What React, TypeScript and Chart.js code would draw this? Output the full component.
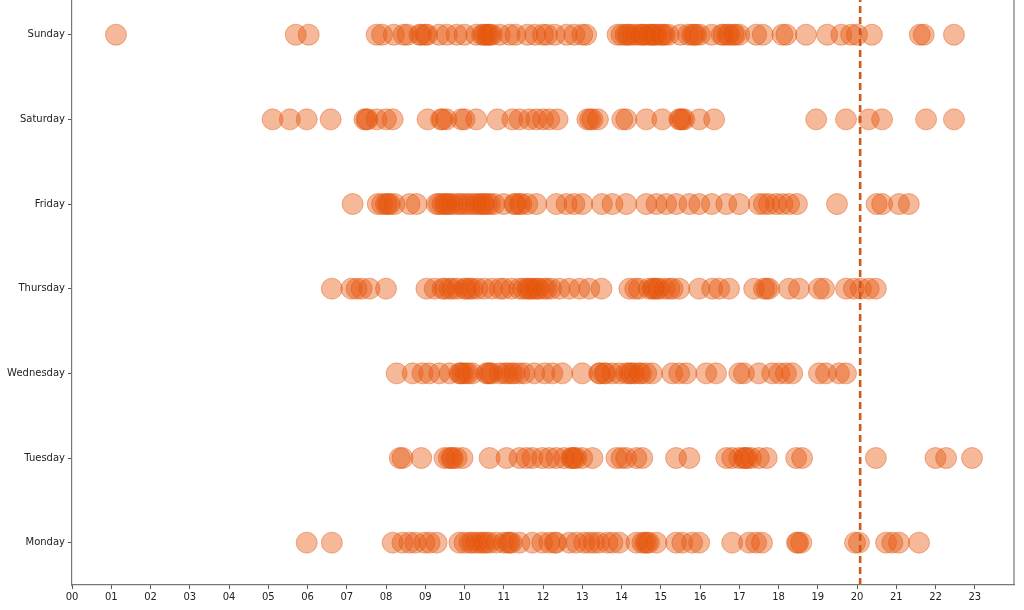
import React, { useEffect, useRef } from "react";
import { Chart, registerables } from "chart.js";

Chart.register(...registerables);

const dayLabels = ["Monday", "Tuesday", "Wednesday", "Thursday", "Friday", "Saturday", "Sunday"];
const hourTickLabels = ["00","01","02","03","04","05","06","07","08","09","10","11","12","13","14","15","16","17","18","19","20","21","22","23"];

const monday = [5.98, 6.62, 8.17, 8.42, 8.6, 8.75, 8.98, 9.11, 9.29, 9.87, 10.0, 10.13, 10.2, 10.3, 10.4, 10.48, 10.55, 10.64, 10.81, 11.0, 11.1, 11.15, 11.2, 11.4, 11.73, 11.98, 12.16, 12.3, 12.34, 12.67, 12.85, 13.05, 13.18, 13.3, 13.43, 13.64, 13.77, 13.94, 14.38, 14.53, 14.6, 14.65, 14.7, 14.89, 15.39, 15.55, 15.8, 15.98, 16.82, 17.25, 17.43, 17.58, 18.47, 18.5, 18.58, 19.95, 20.05, 20.74, 20.9, 21.07, 21.58];
const tuesday = [8.35, 8.42, 8.9, 9.49, 9.6, 9.67, 9.7, 9.8, 9.95, 10.64, 11.07, 11.4, 11.58, 11.73, 11.98, 12.16, 12.34, 12.54, 12.72, 12.75, 12.8, 12.85, 13.0, 13.26, 13.87, 14.0, 14.12, 14.38, 14.53, 15.39, 15.73, 16.67, 16.82, 17.0, 17.12, 17.15, 17.2, 17.3, 17.5, 17.7, 18.45, 18.6, 20.48, 22.0, 22.27, 22.93];
const wednesday = [8.27, 8.68, 8.93, 9.1, 9.36, 9.62, 9.87, 9.9, 9.95, 10.03, 10.1, 10.2, 10.56, 10.6, 10.65, 10.7, 10.9, 11.02, 11.1, 11.2, 11.27, 11.4, 11.53, 11.78, 12.04, 12.24, 12.49, 13.0, 13.43, 13.45, 13.56, 13.6, 13.77, 13.94, 14.12, 14.2, 14.25, 14.33, 14.45, 14.5, 14.63, 14.78, 15.29, 15.47, 15.65, 16.16, 16.41, 17.0, 17.12, 17.5, 17.84, 18.02, 18.19, 18.35, 19.03, 19.21, 19.54, 19.72];
const thursday = [6.62, 7.12, 7.25, 7.38, 7.58, 8.0, 9.03, 9.24, 9.44, 9.5, 9.62, 9.7, 9.82, 10.0, 10.05, 10.13, 10.2, 10.33, 10.5, 10.7, 10.9, 11.0, 11.2, 11.4, 11.5, 11.6, 11.65, 11.7, 11.78, 11.85, 11.9, 12.03, 12.1, 12.21, 12.42, 12.67, 12.93, 13.18, 13.49, 14.2, 14.35, 14.45, 14.7, 14.8, 14.83, 14.9, 14.96, 15.1, 15.22, 15.3, 15.47, 15.98, 16.31, 16.49, 16.74, 17.38, 17.63, 17.7, 17.76, 18.27, 18.52, 19.03, 19.16, 19.72, 19.92, 20.1, 20.3, 20.48];
const friday = [7.15, 7.79, 7.9, 8.0, 8.05, 8.1, 8.22, 8.6, 8.78, 9.29, 9.35, 9.44, 9.5, 9.55, 9.62, 9.7, 9.82, 9.9, 10.0, 10.1, 10.2, 10.3, 10.38, 10.45, 10.5, 10.58, 10.65, 10.76, 11.0, 11.27, 11.3, 11.4, 11.45, 11.6, 11.83, 12.34, 12.6, 12.8, 13.0, 13.5, 13.77, 14.12, 14.63, 14.89, 15.14, 15.4, 15.73, 15.98, 16.3, 16.67, 17.0, 17.5, 17.63, 17.76, 17.94, 18.1, 18.27, 18.47, 19.49, 20.5, 20.64, 21.07, 21.32];
const saturday = [5.11, 5.55, 5.98, 6.59, 7.45, 7.5, 7.53, 7.76, 8.0, 8.17, 9.06, 9.4, 9.44, 9.54, 9.92, 10.0, 10.3, 10.84, 11.22, 11.4, 11.65, 11.83, 12.0, 12.16, 12.37, 13.13, 13.2, 13.26, 13.4, 14.02, 14.12, 14.63, 15.04, 15.47, 15.5, 15.55, 15.6, 15.98, 16.36, 18.96, 19.72, 20.3, 20.64, 21.76, 22.47];
const sunday = [1.12, 5.7, 6.03, 7.76, 7.9, 8.2, 8.45, 8.55, 8.85, 8.9, 9.0, 9.05, 9.35, 9.55, 9.8, 10.0, 10.3, 10.45, 10.5, 10.55, 10.6, 10.65, 10.7, 10.9, 11.15, 11.3, 11.6, 11.8, 12.0, 12.1, 12.3, 12.6, 12.8, 13.0, 13.1, 13.9, 14.0, 14.1, 14.15, 14.2, 14.3, 14.4, 14.5, 14.55, 14.6, 14.7, 14.75, 14.8, 14.85, 14.9, 15.0, 15.05, 15.1, 15.2, 15.5, 15.7, 15.8, 15.85, 15.9, 16.0, 16.3, 16.55, 16.6, 16.7, 16.75, 16.85, 16.9, 17.0, 17.43, 17.6, 18.1, 18.2, 18.7, 19.24, 19.6, 19.85, 20.0, 20.38, 21.6, 21.7, 22.47];

const dayValues = [monday, tuesday, wednesday, thursday, friday, saturday, sunday];
const markerHour = 20.08;

const pointFill = "rgba(230,85,13,0.42)";
const pointEdge = "rgba(220,80,10,0.42)";

export default function App() {
  const ref = useRef<HTMLCanvasElement | null>(null);

  useEffect(() => {
    const canvas = ref.current;
    if (!canvas) return;
    const yMin = -0.5;
    const yMax = 6.41;

    const scatterSets = dayValues.map((vals, di) => ({
      type: "scatter" as const,
      label: dayLabels[di],
      data: vals.map((h) => ({ x: h, y: di })),
      backgroundColor: pointFill,
      borderColor: pointEdge,
      borderWidth: 1,
      pointRadius: 10.5,
      order: 1,
    }));

    const rightSpine = {
      id: "rightSpine",
      afterDraw(chart: any) {
        const { ctx, chartArea } = chart;
        ctx.save();
        ctx.strokeStyle = "#777";
        ctx.lineWidth = 1.2;
        ctx.beginPath();
        ctx.moveTo(chartArea.right, chartArea.top);
        ctx.lineTo(chartArea.right, chartArea.bottom);
        ctx.stroke();
        ctx.restore();
      },
    };

    const chart = new Chart(canvas, {
      type: "scatter",
      data: {
        datasets: [
          {
            type: "line" as const,
            label: "now",
            data: [
              { x: markerHour, y: yMin },
              { x: markerHour, y: yMax },
            ],
            borderColor: "#cc5a1c",
            borderWidth: 2.6,
            borderDash: [7, 4],
            pointRadius: 0,
            fill: false,
            order: 0,
          } as any,
          ...scatterSets,
        ],
      },
      options: {
        responsive: false,
        animation: false,
        layout: { autoPadding: false, padding: { left: 0, right: 10, top: 0, bottom: 0 } },
        plugins: { legend: { display: false }, tooltip: { enabled: false } },
        scales: {
          x: {
            type: "linear",
            min: 0,
            max: 24,
            afterBuildTicks: (scale: any) => {
              scale.ticks = hourTickLabels.map((_, i) => ({ value: i }));
            },
            afterFit: (scale: any) => {
              scale.height = 25;
              scale.paddingLeft = 0;
              scale.paddingRight = 0;
            },
            ticks: {
              autoSkip: false,
              maxRotation: 0,
              padding: 2,
              color: "#222",
              font: { family: "DejaVu Sans", size: 10 },
              callback: (v: any) => hourTickLabels[Number(v)] ?? "",
            },
            grid: {
              drawOnChartArea: false,
              tickLength: 4,
              tickColor: "#555",
            },
            border: { color: "#777", width: 1.2 },
          },
          y: {
            type: "linear",
            min: yMin,
            max: yMax,
            afterBuildTicks: (scale: any) => {
              scale.ticks = dayLabels.map((_, i) => ({ value: i }));
            },
            afterFit: (scale: any) => {
              scale.width = 72;
              scale.paddingTop = 0;
              scale.paddingBottom = 0;
            },
            ticks: {
              autoSkip: false,
              padding: 3,
              color: "#222",
              font: { family: "DejaVu Sans", size: 10 },
              callback: (v: any) => dayLabels[Number(v)] ?? "",
            },
            grid: {
              drawOnChartArea: false,
              tickLength: 4,
              tickColor: "#555",
            },
            border: { color: "#777", width: 1.2 },
          },
        },
      },
      plugins: [rightSpine],
    });

    return () => chart.destroy();
  }, []);

  return (
    <div style={{ position: "fixed", left: 0, top: 0, width: 1024, height: 610, background: "#fff" }}>
      <canvas ref={ref} width={1024} height={610} style={{ display: "block", width: 1024, height: 610 }} />
    </div>
  );
}
